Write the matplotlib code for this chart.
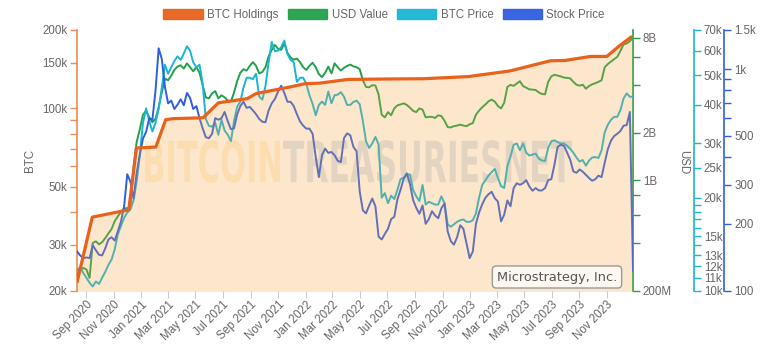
import numpy as np
import pandas as pd
import matplotlib
matplotlib.use("Agg")
import matplotlib.pyplot as plt
from matplotlib.ticker import FixedLocator, FixedFormatter, NullLocator
from matplotlib.patches import Patch, PathPatch
from matplotlib.textpath import TextPath
from matplotlib.font_manager import FontProperties
from matplotlib.transforms import Affine2D
import matplotlib.dates as mdates

plt.rcParams['font.family'] = ['Liberation Sans', 'DejaVu Sans']

# ---------------- data ----------------
holding_dates = ['2020-08-11', '2020-09-14', '2020-12-04', '2020-12-21', '2021-02-02',
                 '2021-02-24', '2021-03-12', '2021-04-05', '2021-05-18', '2021-06-21',
                 '2021-08-24', '2021-09-13', '2021-11-29', '2021-12-30', '2022-02-01',
                 '2022-04-05', '2022-06-29', '2022-09-20', '2022-12-28', '2023-03-27',
                 '2023-04-05', '2023-06-28', '2023-07-31', '2023-09-25', '2023-11-01',
                 '2023-11-30', '2023-12-27']
btc_holdings = [21454, 38250, 40824, 70470, 71079,
                90531, 91326, 91579, 92079, 105085,
                108992, 114042, 121044, 124391, 125051,
                129218, 129699, 130000, 132500, 138955,
                140000, 152333, 152800, 158245, 158400,
                174530, 189150]

series_start = '2020-08-11'
series_end = '2023-12-29'
n_points = 178

btc_price_k = [11.6, 11.9, 11.4, 11.0, 10.6, 10.3, 10.7, 10.5, 11.0, 11.5,
               12.1, 12.6, 13.6, 15.2, 16.2, 17.2, 17.9, 18.3, 19.6, 22.6,
               27.5, 35.0, 39.0, 35.5, 32.8, 35.0, 38.8, 45.5, 54.0, 50.5,
               53.0, 55.5, 57.5, 56.0, 58.7, 62.0, 60.0, 55.0, 53.0, 54.0,
               47.0, 36.0, 34.2, 34.0, 35.0, 32.0, 35.8, 33.0, 32.0, 30.5,
               35.5, 39.5, 41.0, 45.5, 49.0, 49.0, 48.5, 50.5, 42.6, 41.6,
               46.0, 55.0, 64.0, 59.8, 60.0, 61.5, 64.7, 58.5, 56.0, 55.0,
               47.5, 49.0, 49.0, 46.8, 43.0, 40.3, 37.0, 40.0, 41.0, 40.0,
               44.2, 40.5, 43.0, 43.2, 44.0, 42.5, 40.0, 40.0, 40.9, 41.3,
               40.2, 35.5, 30.5, 29.0, 30.0, 31.5, 29.8, 20.0, 20.7, 19.2,
               20.3, 19.8, 21.2, 23.0, 23.2, 23.8, 23.8, 21.2, 20.2, 19.5,
               22.0, 19.0, 19.4, 19.2, 19.0, 19.0, 20.2, 19.2, 16.4, 16.1,
               16.4, 16.7, 16.9, 17.0, 16.7, 16.7, 16.9, 17.8, 20.0, 22.0,
               22.8, 23.6, 24.2, 24.8, 23.2, 21.8, 21.5, 25.3, 27.2, 29.7,
               30.0, 28.5, 30.0, 28.0, 27.4, 27.6, 27.8, 26.8, 26.4, 26.3,
               29.0, 30.5, 30.7, 30.3, 30.0, 30.0, 29.5, 28.8, 28.0, 27.0,
               26.2, 26.5, 25.4, 26.4, 27.0, 27.1, 26.9, 28.5, 32.6, 34.5,
               35.8, 36.6, 36.6, 38.5, 42.0, 43.6, 42.5, 42.5]

stock_price = [150, 144, 140, 141, 140, 160, 152, 145, 144, 155,
               170, 174, 168, 185, 205, 240, 335, 310, 260, 340,
               410, 485, 520, 600, 590, 800, 1240, 1110, 830, 700,
               720, 660, 690, 730, 686, 780, 740, 660, 680, 600,
               540, 492, 487, 510, 600, 590, 600, 640, 580, 535,
               540, 625, 680, 711, 668, 674, 650, 625, 595, 578,
               575, 650, 700, 732, 790, 840, 780, 711, 711, 680,
               625, 580, 555, 538, 538, 510, 400, 325, 409, 437,
               418, 422, 408, 385, 380, 488, 512, 502, 445, 425,
               280, 230, 223, 242, 260, 240, 175, 170, 180, 190,
               210, 215, 258, 285, 320, 338, 302, 256, 236, 222,
               242, 200, 210, 228, 218, 212, 235, 247, 185, 167,
               161, 174, 197, 190, 163, 140, 150, 200, 225, 245,
               262, 272, 279, 261, 252, 205, 220, 255, 240, 290,
               305, 300, 305, 315, 295, 282, 290, 283, 283, 290,
               315, 318, 370, 445, 455, 450, 420, 390, 345, 340,
               352, 344, 333, 322, 313, 318, 330, 325, 378, 435,
               475, 498, 510, 525, 555, 558, 640, 123]

usd_value_bn = [0.25, 0.27, 0.278, 0.272, 0.24, 0.40, 0.41, 0.392, 0.405, 0.43,
                0.46, 0.49, 0.55, 0.59, 0.63, 0.66, 0.665, 0.68, 1.2, 1.75,
                2.1, 2.6, 2.75, 2.5, 2.33, 2.45, 2.9, 3.6, 4.4, 4.3,
                4.6, 5.0, 5.25, 5.35, 5.1, 5.5, 5.2, 4.9, 5.2, 4.8,
                4.0, 3.35, 3.3, 3.55, 3.67, 3.3, 3.45, 3.35, 3.2, 3.15,
                3.6, 4.25, 4.8, 5.05, 4.95, 5.3, 5.6, 5.3, 4.75, 4.85,
                5.2, 6.1, 6.7, 7.2, 6.8, 6.7, 7.35, 6.4, 6.0, 5.8,
                5.9, 5.6, 5.2, 5.0, 5.3, 5.55, 5.2, 4.7, 4.5, 4.8,
                5.25, 4.75, 5.5, 5.2, 4.95, 5.15, 5.3, 5.4, 5.27, 5.2,
                5.05, 4.3, 3.9, 3.88, 4.0, 3.98, 3.5, 2.6, 2.5, 2.7,
                2.58, 2.85, 2.98, 3.02, 3.07, 3.0, 2.88, 2.75, 2.7, 2.85,
                2.8, 2.5, 2.52, 2.52, 2.48, 2.58, 2.55, 2.38, 2.17, 2.16,
                2.2, 2.22, 2.25, 2.22, 2.2, 2.26, 2.3, 2.6, 2.76, 2.9,
                3.02, 3.16, 3.24, 3.15, 2.95, 2.85, 3.1, 3.9, 4.02, 3.96,
                4.1, 4.24, 3.95, 3.86, 3.76, 3.75, 3.73, 3.6, 3.52, 3.5,
                4.2, 4.55, 4.66, 4.6, 4.55, 4.47, 4.45, 4.42, 4.2, 4.03,
                3.97, 4.03, 3.8, 3.95, 4.05, 4.12, 4.2, 4.3, 5.2, 5.45,
                5.65, 5.85, 6.05, 6.6, 7.25, 7.35, 7.6, 8.0]

btc_ticks = [20000, 30000, 40000, 50000, 60000, 70000, 80000, 90000, 100000, 150000, 200000]
btc_labels = ['20k', '30k', '', '50k', '', '', '', '', '100k', '150k', '200k']
usd_ticks = [0.2, 0.4, 0.6, 0.8, 1, 2, 4, 6, 8]
usd_labels = ['200M', '', '', '', '1B', '2B', '', '', '8B']
price_ticks = [10, 11, 12, 13, 14, 15, 16, 17, 18, 19, 20, 25, 30, 40, 50, 60, 70]
price_labels = ['10k', '11k', '12k', '13k', '', '15k', '', '', '', '', '20k', '25k',
                '30k', '40k', '50k', '60k', '70k']
stock_ticks = [100, 200, 300, 400, 500, 600, 700, 800, 900, 1000, 1500]
stock_labels = ['100', '200', '300', '', '500', '', '', '', '', '1k', '1.5k']

legend_labels = ['BTC Holdings', 'USD Value', 'BTC Price', 'Stock Price']
company = 'Microstrategy, Inc.'

# ---------------- styling ----------------
C_HOLD = '#e8621c'
C_USD = '#22a04a'
C_BTC = '#19b5d3'
C_STK = '#2f5ee0'
C_TXT = '#666666'
FILL = '#f7a440'

W, H = 768, 355
fig = plt.figure(figsize=(W / 100, H / 100), dpi=100)
L, R, T, B = 77, 633, 30, 290.5
ax = fig.add_axes([L / W, 1 - B / H, (R - L) / W, (B - T) / H])

price_dates = pd.date_range(series_start, series_end, periods=n_points)
hold_dates = pd.to_datetime(holding_dates)

x0, x1 = pd.Timestamp(series_start), pd.Timestamp(series_end)


def style_y(a, color, ticks, labels, lim):
    a.set_yscale('log')
    a.set_ylim(*lim)
    a.yaxis.set_major_locator(FixedLocator(ticks))
    a.yaxis.set_major_formatter(FixedFormatter(labels))
    a.yaxis.set_minor_locator(NullLocator())
    a.tick_params(axis='y', which='major', color=color, labelcolor=C_TXT,
                  length=5, width=1, labelsize=8.3, pad=2)


# main axis (BTC holdings scale)
style_y(ax, '#ee8a55', btc_ticks, btc_labels, (20000, 200000))
for s in ['top', 'right', 'bottom']:
    ax.spines[s].set_visible(False)
ax.spines['left'].set_color('#ee8a55')
ax.spines['left'].set_linewidth(1.2)
ax.set_xlim(x0, x1)
xt = pd.date_range('2020-09-01', '2023-11-01', freq='2MS')
ax.set_xticks(xt)
ax.xaxis.set_major_formatter(mdates.DateFormatter('%b %Y'))
ax.tick_params(axis='x', colors='#cccccc', labelcolor=C_TXT, length=5, labelsize=8.3, pad=1)
for lab in ax.get_xticklabels():
    lab.set_rotation(45)
    lab.set_ha('right')
    lab.set_rotation_mode('anchor')

# watermark
fp = FontProperties(family='DejaVu Sans', weight='bold')


def watermark(text, px0, px1, py_top, py_bot, color):
    p = TextPath((0, 0), text, size=1, prop=fp)
    bb = p.get_extents()
    ax0 = (px0 - L) / (R - L)
    ax1 = (px1 - L) / (R - L)
    ay0 = (B - py_bot) / (B - T)
    ay1 = (B - py_top) / (B - T)
    tr = (Affine2D().translate(-bb.x0, -bb.y0)
          .scale((ax1 - ax0) / bb.width, (ay1 - ay0) / bb.height)
          .translate(ax0, ay0) + ax.transAxes)
    ax.add_patch(PathPatch(p, transform=tr, facecolor=color, edgecolor='none', zorder=0.5))


watermark('BITCOIN', 145, 280, 140, 183, '#fef2d6')
watermark('TREASURIESNET', 283, 572, 140, 183, '#dbe6ee')

ax_usd = ax.twinx()
style_y(ax_usd, C_USD, usd_ticks, usd_labels, (0.2, 8.95))
ax_btc = ax.twinx()
style_y(ax_btc, C_BTC, price_ticks, price_labels, (10, 70))
ax_btc.spines['right'].set_position(('axes', (694 - L) / (R - L)))
ax_stk = ax.twinx()
style_y(ax_stk, C_STK, stock_ticks, stock_labels, (100, 1500))
ax_stk.spines['right'].set_position(('axes', (724.5 - L) / (R - L)))
for a, c in [(ax_usd, C_USD), (ax_btc, C_BTC), (ax_stk, C_STK)]:
    for s in ['top', 'left', 'bottom']:
        a.spines[s].set_visible(False)
    a.spines['right'].set_color(c)
    a.spines['right'].set_linewidth(1.2)
    a.set_xlim(x0, x1)

ax_usd.plot(price_dates, usd_value_bn, color=C_USD, lw=1.4, solid_joinstyle='round')
ax_btc.plot(price_dates, btc_price_k, color=C_BTC, lw=1.4, solid_joinstyle='round')
ax_stk.plot(price_dates, stock_price, color=C_STK, lw=1.4, solid_joinstyle='round')

# overlay for holdings area + line
ax_top = ax.twinx()
ax_top.set_yscale('log')
ax_top.set_ylim(20000, 200000)
ax_top.set_xlim(x0, x1)
ax_top.yaxis.set_visible(False)
for s in ax_top.spines.values():
    s.set_visible(False)
ax_top.fill_between(hold_dates, btc_holdings, 10000, color=FILL, alpha=0.26, lw=0)
ax_top.plot(hold_dates, btc_holdings, color=C_HOLD, lw=2.3, solid_joinstyle='round',
            solid_capstyle='butt')

ax_top.text((557 - L) / (R - L), (B - 277) / (B - T), company, transform=ax_top.transAxes,
            ha='center', va='center', fontsize=9.3, color='#555555', family='DejaVu Sans',
            bbox=dict(boxstyle='round,pad=0.35,rounding_size=0.3', fc='#fdf7ef',
                      ec='#999999', lw=1.0), zorder=10)

fig.text(30 / W, 1 - 160 / H, 'BTC', rotation=90, ha='center', va='center',
         fontsize=8.3, color=C_TXT)
fig.text(683 / W, 1 - 162 / H, 'USD', rotation=270, ha='center', va='center',
         fontsize=8.3, color=C_TXT)

handles = [Patch(facecolor=c, edgecolor=c, alpha=0.95, label=l)
           for c, l in zip([C_HOLD, C_USD, C_BTC, C_STK], legend_labels)]
fig.legend(handles=handles, loc='center', bbox_to_anchor=(384 / W, 1 - 15 / H), ncol=4,
           frameon=False, fontsize=8.3, handlelength=3.4, handleheight=1.0,
           handletextpad=0.4, columnspacing=0.8, labelcolor=C_TXT)

fig.savefig('out.png', dpi=100)
